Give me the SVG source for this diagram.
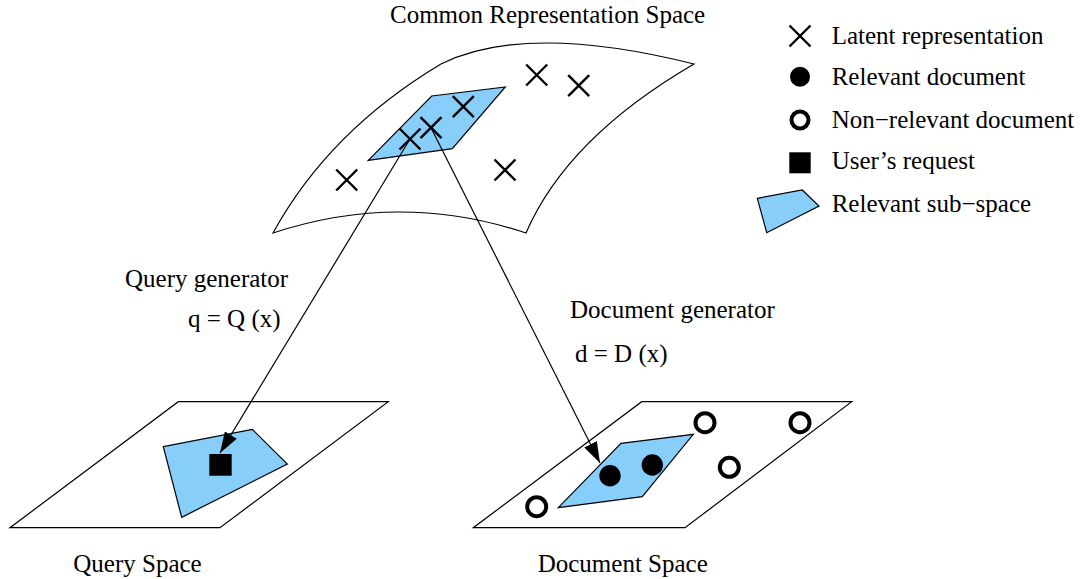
<svg xmlns="http://www.w3.org/2000/svg" width="1086" height="579" viewBox="0 0 1086 579">
<defs>
<style>
.t{font-family:"Liberation Serif","Times New Roman",serif;font-size:25px;fill:#000}
.plane{fill:#fff;stroke:#000;stroke-width:1.2}
.sub{fill:#87cefa;stroke:#000;stroke-width:1.2}
.x{stroke:#000;stroke-width:2.4;fill:none}
.rel{fill:#000}
.nrel{fill:#fff;stroke:#000;stroke-width:4}
.conn{stroke:#000;stroke-width:1.2;fill:none}
</style>
<marker id="ah" markerUnits="userSpaceOnUse" markerWidth="22" markerHeight="14" refX="21" refY="7" orient="auto">
<path d="M0,0 L21,7 L0,14 Z" fill="#000"/>
</marker>
<path id="cross" d="M-10.5,-10.5 L10.5,10.5 M-10.5,10.5 L10.5,-10.5"/>
</defs>
<rect width="1086" height="579" fill="#fff"/>

<g id="common-space">
<path class="plane" d="M441,64 Q526,22 694,64 Q567,138 526,233 Q400,191 273,233 Q329,131 441,64 Z"/>
<polygon class="sub" points="431.7,96 505.3,87 452.3,148.7 368.3,160.3"/>
<use href="#cross" class="x" x="536.7" y="75"/>
<use href="#cross" class="x" x="578.7" y="85.7"/>
<use href="#cross" class="x" x="463.3" y="106.7"/>
<use href="#cross" class="x" x="431" y="127.7"/>
<use href="#cross" class="x" x="410" y="139"/>
<use href="#cross" class="x" x="346.7" y="180"/>
<use href="#cross" class="x" x="505" y="170"/>
<text class="t" x="390" y="23.3">Common Representation Space</text>
</g>

<g id="query-space">
<polygon class="plane" points="178.3,401.7 388.3,401.7 220,527.7 10,527.7"/>
<polygon class="sub" points="163.3,446.7 252.3,429.3 287.3,464 181.7,517.3"/>
<text class="t" x="73.3" y="571.7">Query Space</text>
</g>

<g id="document-space">
<polygon class="plane" points="641.7,401.7 851.7,401.7 685,527.7 473.3,527.7"/>
<polygon class="sub" points="621,443.3 693.3,434.3 642.3,496.7 558.3,507.7"/>
<circle class="rel" cx="610" cy="475.7" r="10.7"/>
<circle class="rel" cx="652.3" cy="465" r="10.7"/>
<circle class="nrel" cx="705" cy="422.7" r="9.5"/>
<circle class="nrel" cx="800" cy="422.7" r="9.5"/>
<circle class="nrel" cx="729.3" cy="467.3" r="9.5"/>
<circle class="nrel" cx="536.7" cy="506.7" r="9.5"/>
<text class="t" x="537.7" y="571.7">Document Space</text>
</g>

<g id="connectors">
<line class="conn" x1="410" y1="139" x2="220" y2="453" marker-end="url(#ah)"/>
<line class="conn" x1="431" y1="127.7" x2="600" y2="463" marker-end="url(#ah)"/>
</g>

<g id="user-request">
<rect x="209.3" y="454" width="22.4" height="21.7" fill="#000"/>
</g>

<g id="labels">
<text class="t" x="125" y="286.7">Query generator</text>
<text class="t" x="188" y="326.7">q = Q (x)</text>
<text class="t" x="570" y="318.3">Document generator</text>
<text class="t" x="575" y="361.7">d = D (x)</text>
</g>

<g id="legend">
<use href="#cross" class="x" x="800" y="36" transform="scale(1)"/>
<text class="t" x="831.7" y="44">Latent representation</text>
<circle class="rel" cx="800" cy="76.7" r="10"/>
<text class="t" x="831.7" y="85">Relevant document</text>
<circle class="nrel" cx="800" cy="120" r="8.5"/>
<text class="t" x="831.7" y="128.3">Non−relevant document</text>
<rect x="789.3" y="152.3" width="21.4" height="21" fill="#000"/>
<text class="t" x="831.7" y="169">User’s request</text>
<polygon class="sub" points="757.3,198.3 802.3,190 819,206 766.7,232.7"/>
<text class="t" x="831.7" y="212">Relevant sub−space</text>
</g>
</svg>
